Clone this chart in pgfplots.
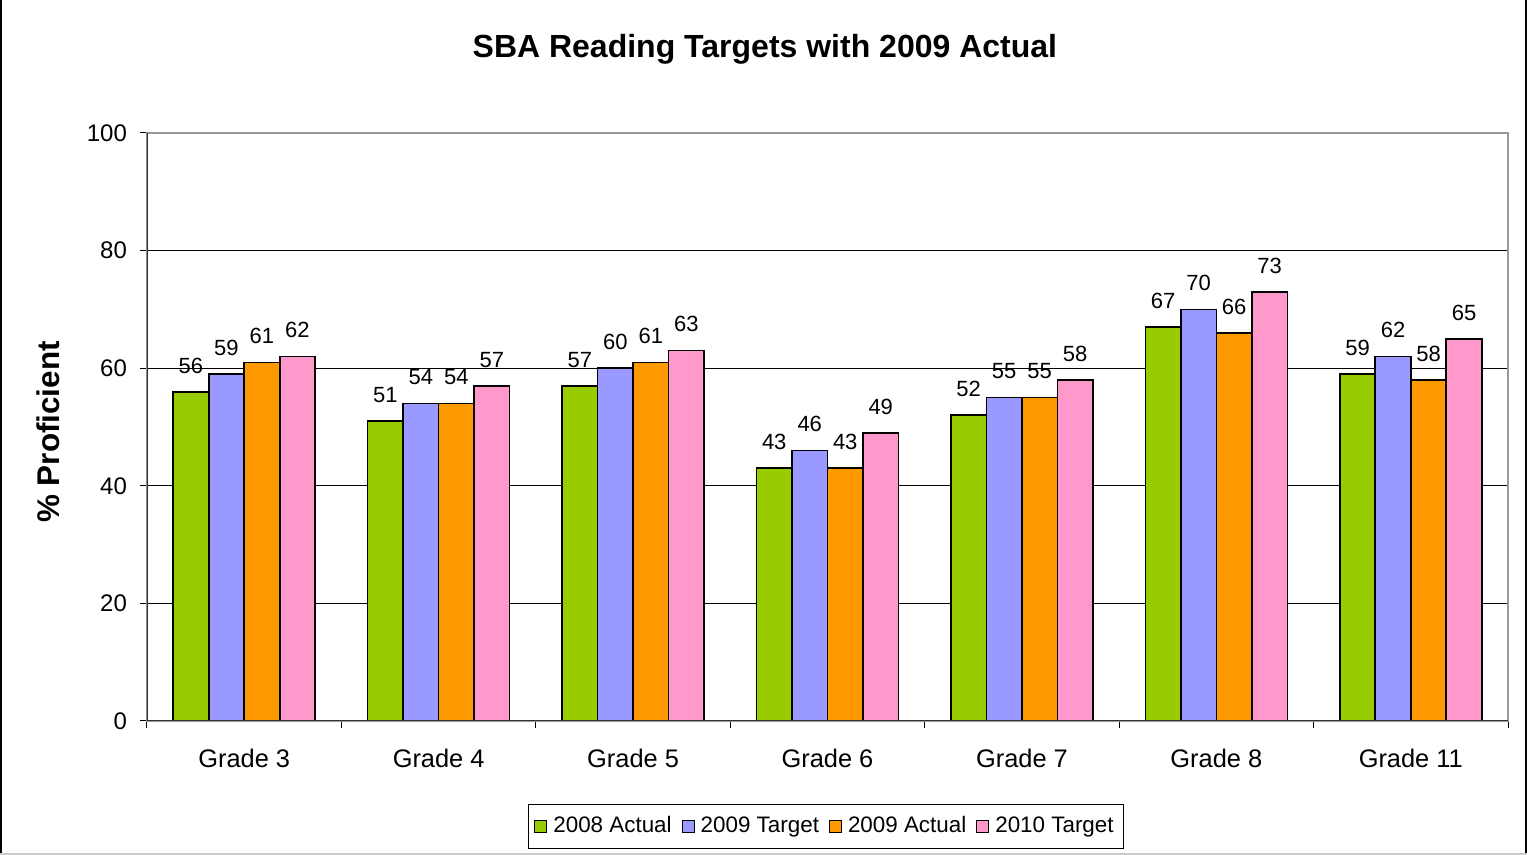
\documentclass[border=0pt]{standalone}
\usepackage{pgfplots}
\pgfplotsset{compat=1.18}
\usepackage{fontspec}
\setmainfont{Liberation Sans}
\definecolor{cgreen}{HTML}{99CC00}
\definecolor{cblue}{HTML}{9999FF}
\definecolor{corange}{HTML}{FF9900}
\definecolor{cpink}{HTML}{FF99CC}
\begin{document}
\begin{tikzpicture}
\pgfkeys{/pgf/number format/assume math mode=true}
\begin{axis}[
  at={(73.5pt,67pt)}, anchor=south west,
  scale only axis, width=680.5pt, height=294pt,
  ybar=0pt, bar width=17.75pt,
  xmin=-0.5, xmax=6.5, ymin=0, ymax=100,
  xtick={0,1,2,3,4,5,6},
  xticklabels={Grade 3,Grade 4,Grade 5,Grade 6,Grade 7,Grade 8,Grade 11},
  minor xtick={-0.5,0.5,...,6.5},
  ytick={0,20,40,60,80,100},
  tick align=outside, xtick pos=bottom, ytick pos=left,
  major tick length=3.5pt, minor tick length=3.5pt,
  major x tick style={draw=none},
  minor x tick style={draw=black, line width=0.5pt},
  ytick style={draw=black, line width=0.5pt},
  ymajorgrids, grid style={black, line width=0.5pt},
  axis line style={draw=gray!80, line width=0.6pt},
  yticklabel style={font=\fontsize{12}{13}\selectfont, xshift=-3pt},
  xticklabel style={font=\fontsize{12.7}{14}\selectfont, yshift=-7pt},
  ylabel={\% Proficient},
  ylabel style={at={(axis description cs:-0.0727,0.4915)}, rotate=0, anchor=center, font=\bfseries\fontsize{15.7}{17}\selectfont},
  title={SBA Reading Targets with 2009 Actual},
  title style={at={(axis description cs:0.454,1.1225)}, anchor=center, font=\bfseries\fontsize{16}{17}\selectfont},
  nodes near coords,
  every node near coord/.append style={font=\fontsize{11}{12}\selectfont, black, yshift=5.5pt},
  legend columns=4,
  legend style={at={(axis description cs:0.4989,-0.1794)}, anchor=center, draw=black, line width=0.5pt,
    font=\fontsize{11.2}{13}\selectfont, inner xsep=3pt, inner ysep=3.5pt,
    nodes={text height=1.6ex, text depth=0.45ex},
    /tikz/every even column/.append style={column sep=3pt},
    /tikz/every odd column/.append style={column sep=1pt}},
  legend image code/.code={\draw[#1, line width=0.5pt] (0pt,-3pt) rectangle (6pt,3pt);},
]
\addplot[fill=cgreen, draw=black, line width=0.8pt] coordinates {(0,56) (1,51) (2,57) (3,43) (4,52) (5,67) (6,59)};
\addplot[fill=cblue, draw=black, line width=0.8pt] coordinates {(0,59) (1,54) (2,60) (3,46) (4,55) (5,70) (6,62)};
\addplot[fill=corange, draw=black, line width=0.8pt] coordinates {(0,61) (1,54) (2,61) (3,43) (4,55) (5,66) (6,58)};
\addplot[fill=cpink, draw=black, line width=0.8pt] coordinates {(0,62) (1,57) (2,63) (3,49) (4,58) (5,73) (6,65)};
\legend{2008 Actual,2009 Target,2009 Actual,2010 Target}
\draw[gray!80, line width=0.6pt] (rel axis cs:0,1) -- (rel axis cs:1,1) -- (rel axis cs:1,0);
\draw[black!80, line width=0.8pt] (rel axis cs:0,1) -- (rel axis cs:0,0) -- (rel axis cs:1,0);
\end{axis}
\draw[black, line width=1pt] (0.5pt,0) -- (0.5pt,427.5pt);
\draw[black, line width=1pt] (763pt,0) -- (763pt,427.5pt);
\draw[gray!40, line width=1pt] (0,0.5pt) -- (763.5pt,0.5pt);
\pgfresetboundingbox
\path (0,0) rectangle (763.5pt,427.5pt);
\end{tikzpicture}
\end{document}
